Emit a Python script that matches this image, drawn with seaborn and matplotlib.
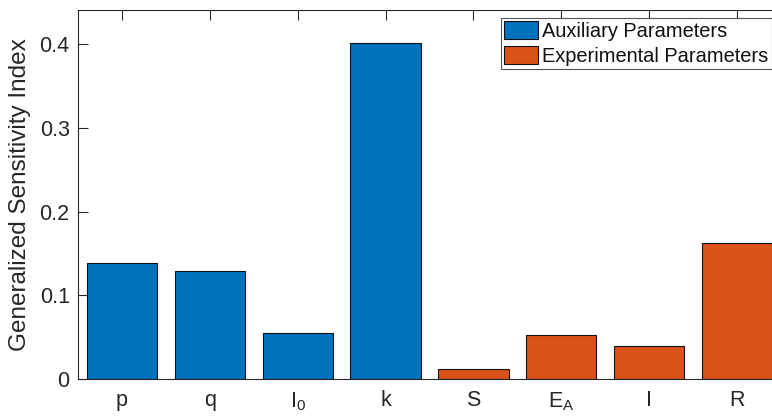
import matplotlib
matplotlib.use("Agg")
import matplotlib.pyplot as plt
import seaborn as sns
import pandas as pd

# Sensitivity indices per parameter
params = ["p", "q", "I0", "k", "S", "EA", "I", "R"]
tick_labels = ["p", "q", r"I$_\mathregular{0}$", "k", "S", r"E$_\mathregular{A}$", "I", "R"]
values = [0.139, 0.129, 0.055, 0.402, 0.012, 0.052, 0.039, 0.162]
groups = ["Auxiliary Parameters"] * 4 + ["Experimental Parameters"] * 4
group_colors = {"Auxiliary Parameters": "#0072BD",
                "Experimental Parameters": "#D95319"}

df = pd.DataFrame({"param": params, "value": values, "group": groups})

sns.set_theme(style="white")
plt.rcParams["font.family"] = ["Liberation Sans", "DejaVu Sans"]
plt.rcParams["mathtext.fontset"] = "custom"
plt.rcParams["mathtext.rm"] = "Liberation Sans"
plt.rcParams["mathtext.it"] = "Liberation Sans:italic"

W, H = 772, 418
fig = plt.figure(figsize=(W / 100, H / 100), dpi=100)
# axes runs slightly past the right edge of the canvas
left, right, bottom, top = 78, 781, 379, 10
ax = fig.add_axes([left / W, 1 - bottom / H, (right - left) / W, (bottom - top) / H])

sns.barplot(data=df, x="param", y="value", hue="group", order=params,
            palette=group_colors, dodge=False, width=0.8,
            edgecolor="#111111", linewidth=0.8, saturation=1, ax=ax)

ax.set_xlim(-0.5, len(params) - 0.5)
ax.set_ylim(0, 0.441)
ax.set_yticks([0, 0.1, 0.2, 0.3, 0.4])
ax.set_yticklabels(["0", "0.1", "0.2", "0.3", "0.4"])
ax.set_xticks(range(len(params)))
ax.set_xticklabels(tick_labels)
ax.set_xlabel("")
ax.set_ylabel("Generalized Sensitivity Index", fontsize=17.5, color="#262626", labelpad=6)

axis_col = "#262626"
for s in ax.spines.values():
    s.set_color(axis_col)
    s.set_linewidth(0.8)
    s.set_visible(True)
ax.tick_params(axis="both", which="both", direction="in", length=7, width=0.8,
               color=axis_col, labelcolor=axis_col, labelsize=15.5,
               top=True, right=False, bottom=True, left=True)
ax.tick_params(axis="y", pad=6)
ax.tick_params(axis="x", pad=8)

handles, labels = ax.get_legend_handles_labels()
leg = ax.legend(handles, labels, loc="upper right",
                bbox_to_anchor=(771.5 / W, 1 - 18 / H),
                bbox_transform=fig.transFigure,
                fontsize=14.4, frameon=True, fancybox=False,
                edgecolor="#555555", framealpha=1,
                borderpad=0.15, borderaxespad=0, handlelength=1.7,
                handleheight=1.0, handletextpad=0.2, labelspacing=0.25)
leg.get_frame().set_linewidth(0.8)
for t in leg.get_texts():
    t.set_color("#111111")

fig.savefig("out.png", dpi=100)
